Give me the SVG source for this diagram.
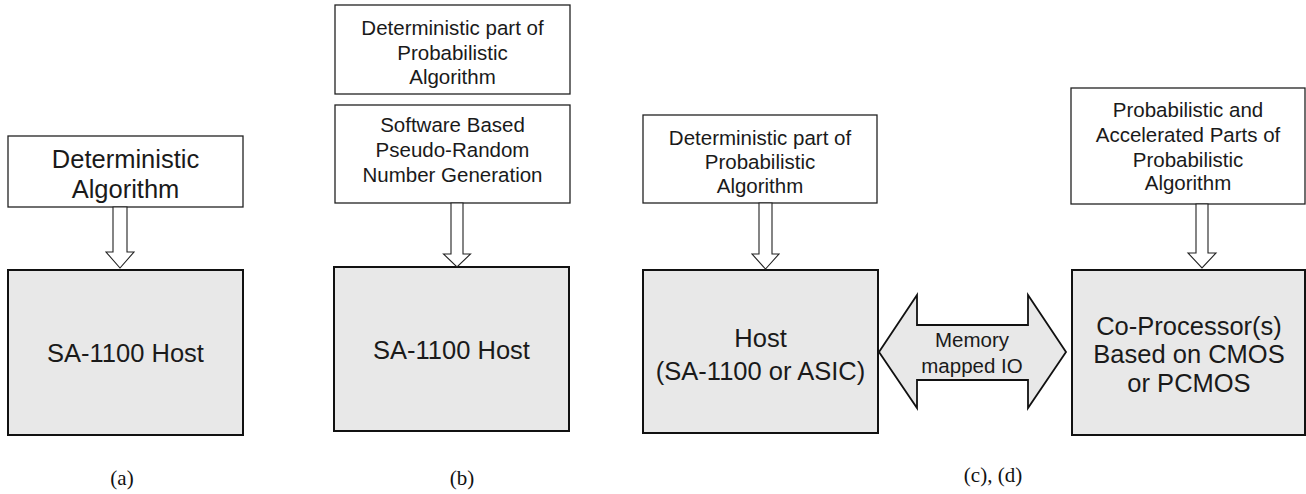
<svg xmlns="http://www.w3.org/2000/svg" width="1306" height="494" viewBox="0 0 1306 494">
<style>
.tb{fill:#fff;stroke:#222;stroke-width:1.3}
.bb{fill:#e8e8e8;stroke:#111;stroke-width:2}
.ar{fill:#fff;stroke:#222;stroke-width:1.1}
.da{fill:#e8e8e8;stroke:#111;stroke-width:1.8}
.s{font-family:"Liberation Sans",Arial,sans-serif;font-size:20.5px;fill:#1a1a1a;text-anchor:middle}
.l{font-family:"Liberation Sans",Arial,sans-serif;font-size:25.5px;fill:#1a1a1a;text-anchor:middle}
.c{font-family:"Liberation Serif","Times New Roman",serif;font-size:21px;fill:#111;text-anchor:middle}
</style>
<rect width="1306" height="494" fill="#fff"/>
<g id="a-top"><rect class="tb" x="8" y="136" width="235" height="71"/>
<text class="l" x="125.5" y="168">Deterministic</text><text class="l" x="125.5" y="198">Algorithm</text></g>
<g id="a-host"><rect class="bb" x="8" y="270" width="235" height="165"/>
<text class="l" x="125.5" y="362">SA-1100 Host</text></g>
<g id="b-top"><rect class="tb" x="335" y="5" width="235" height="89"/>
<text class="s" x="452.5" y="35">Deterministic part of</text><text class="s" x="452.5" y="60">Probabilistic</text><text class="s" x="452.5" y="84">Algorithm</text></g>
<g id="b-prng"><rect class="tb" x="335" y="105" width="235" height="98"/>
<text class="s" x="452.5" y="132">Software Based</text><text class="s" x="452.5" y="157">Pseudo-Random</text><text class="s" x="452.5" y="182">Number Generation</text></g>
<g id="b-host"><rect class="bb" x="334" y="267" width="235" height="164"/>
<text class="l" x="451.5" y="359">SA-1100 Host</text></g>
<g id="c-top"><rect class="tb" x="643" y="115" width="234" height="88"/>
<text class="s" x="760" y="145">Deterministic part of</text><text class="s" x="760" y="169">Probabilistic</text><text class="s" x="760" y="193">Algorithm</text></g>
<g id="c-host"><rect class="bb" x="643" y="270" width="235" height="163"/>
<text class="l" x="760.5" y="347">Host</text><text class="l" x="760.5" y="380">(SA-1100 or ASIC)</text></g>
<g id="d-top"><rect class="tb" x="1071" y="88" width="234" height="116"/>
<text class="s" x="1188" y="117">Probabilistic and</text><text class="s" x="1188" y="142">Accelerated Parts of</text><text class="s" x="1188" y="167">Probabilistic</text><text class="s" x="1188" y="190">Algorithm</text></g>
<g id="d-cop"><rect class="bb" x="1072" y="270" width="233" height="165"/>
<text class="l" x="1189" y="335">Co-Processor(s)</text><text class="l" x="1189" y="363">Based on CMOS</text><text class="l" x="1189" y="392">or PCMOS</text></g>
<g id="connectors">
<polygon class="ar" points="113,207 127,207 127,252 134,252 120,268 106,252 113,252"/>
<polygon class="ar" points="451,203 463,203 463,254 470.5,254 457,267 443.5,254 451,254"/>
<polygon class="ar" points="759,203 772,203 772,254 779,254 765.5,269 752,254 759,254"/>
<polygon class="ar" points="1196,204 1208,204 1208,253 1216,253 1202,268 1188,253 1196,253"/>
<polygon class="da" points="879,352 917,295 917,325 1028,325 1028,295 1066,352 1028,408 1028,380 917,380 917,408"/>
<text class="s" x="972" y="347">Memory</text><text class="s" x="972" y="373">mapped IO</text>
</g>
<g id="captions">
<text class="c" x="122" y="485">(a)</text>
<text class="c" x="462" y="485">(b)</text>
<text class="c" x="993" y="482">(c), (d)</text>
</g>
</svg>
